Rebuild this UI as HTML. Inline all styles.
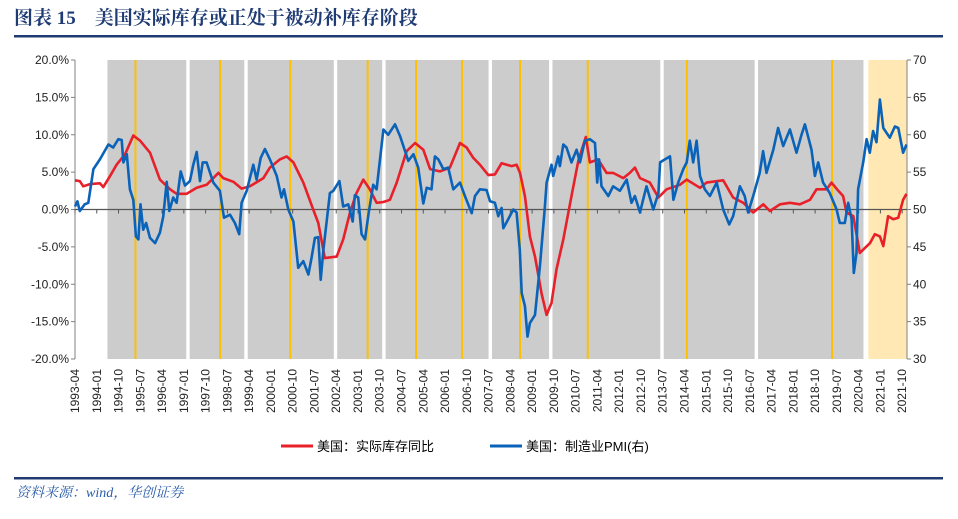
<!DOCTYPE html>
<html><head><meta charset="utf-8">
<style>
body{margin:0;background:#fff;width:958px;height:519px;overflow:hidden;font-family:"Liberation Sans","Noto Sans CJK SC",sans-serif;}
svg{display:block}
</style></head>
<body>
<svg id="c" width="958" height="519">
<text x="14" y="24" font-family="'Liberation Serif','Noto Serif CJK SC',serif" font-weight="bold" font-size="19" fill="#1f3b73">图表 15　美国实际库存或正处于被动补库存阶段</text>
<rect x="14" y="35" width="929" height="2.5" fill="#1f3b73"/>
<g id="bg"></g>
<g id="axes"></g>
<g id="series"></g>
<g>
<line x1="281" y1="446" x2="313" y2="446" stroke="#e8202a" stroke-width="3"/>
<text x="317" y="451" font-size="13" fill="#000">美国：实际库存同比</text>
<line x1="490" y1="446" x2="522" y2="446" stroke="#0a63b8" stroke-width="3"/>
<text x="526" y="451" font-size="13" fill="#000">美国：制造业PMI(右)</text>
</g>
<rect x="14" y="477" width="929" height="2.5" fill="#1f3b73"/>
<text x="16" y="497" font-family="'Liberation Serif','Noto Serif CJK SC',serif" font-style="italic" font-size="14" fill="#2a5ca8">资料来源：wind，华创证券</text>
</svg>
<script>
// months are offsets from 1993-04
const shadeStart=[13,47,71,108,128,172,197,243,282];
const shadeEnd=[46,70,107,127,171,196,242,281,326];
const highlightStart=[328];
const highlightEnd=[344];
const goldMonths=[25,60,89,121,141,160,184,212,253,313];
const leftTicks=[20,15,10,5,0,-5,-10,-15,-20];
const rightTicks=[70,65,60,55,50,45,40,35,30];
const invMonths=[0,2,3.4,6.2,10.3,11.7,14.5,17.2,20.7,24.1,26.9,31,35.1,39.3,42,46.2,50.3,54.4,59.3,61.3,65.5,68.9,72.3,77.9,80.6,84.7,87.5,90.3,94.4,98.5,100.6,103.3,108.2,110.9,113.7,116.4,119.2,121.9,124.7,127.5,130.2,133,137.1,140.6,144,146.8,150.9,155,159.2,161.9,164.7,167.4,170.9,173.6,176.4,180.5,182.6,184,186,188.1,190.2,192.9,195,197,199.1,201.9,205.3,208.1,211.2,212.9,216.3,219.8,222.5,226.7,229.4,231.5,233.6,237.7,241.2,244.6,250.1,252.9,258.4,261.1,268,272.1,276.3,280.4,284.6,287.3,291.5,295.6,299.7,303.9,306.6,310.8,312.8,315.6,317.6,319,321.8,324.5,328.7,330.7,332.8,334.2,336.2,338.3,340.4,342.4,343.8];
const invValues=[3.9,3.8,3.1,3.4,3.5,3.0,4.5,6.0,7.4,9.9,9.2,7.6,4.0,2.7,2.1,2.1,2.9,3.3,4.9,4.2,3.7,2.8,3.1,4.2,5.6,6.7,7.1,6.3,3.6,0,-1.8,-6.5,-6.3,-4.0,-0.4,2.2,4.0,2.7,0.9,1.0,1.3,3.6,7.8,8.9,8.0,5.4,5.1,5.6,8.9,8.3,6.9,6.0,4.6,4.7,6.2,5.8,6.0,4.9,1.8,-3.6,-6.3,-11.2,-14.1,-12.5,-8.0,-4.0,1.8,6.5,9.7,6.3,6.7,4.9,4.9,4.2,4.9,5.6,4.2,3.6,1.6,2.7,3.3,4.0,2.9,3.6,3.9,1.6,0.9,-0.4,0.7,-0.2,0.7,0.9,0.7,1.3,2.7,2.7,3.6,2.5,1.8,-0.4,-0.9,-5.8,-4.5,-3.3,-3.6,-4.9,-0.9,-1.3,-1.1,1.3,2.1];
const pmiMonths=[0,1,2,4,5.5,7.6,10.3,13.8,15.8,17.9,19.3,20,21.4,22.7,24.1,25.2,26.2,27.1,28.2,29.4,31,33.1,35.1,36.5,37.9,39,40.6,42,43.7,45.5,47.5,48.9,50.3,51.7,52.8,54.4,57.2,59.9,61.6,64.1,66.1,67.9,68.9,71,73.7,75.1,76.8,78.5,80.6,83.4,85.4,86.4,88.2,90.3,92.3,94.4,96.5,97.8,99.2,100.6,101.6,102.7,105.4,106.8,109.3,110.9,113,114.8,115.7,117.1,118.5,119.9,121.3,123.3,124.7,127.5,129.5,132.3,134.4,137.8,139.9,141.9,144,145.4,147.4,148.8,150.2,152.3,154.3,156.4,159.2,161.2,164,165.4,167.4,170.2,171.6,173.6,175,176.4,177.1,179.1,181.2,182.6,183.9,184.7,186,187.1,188.1,190.2,192.2,194.3,195,197,197.7,199.8,200.5,201.9,203.2,205.3,207.4,208.8,210.8,212.9,215,215.9,216.7,217.7,220.5,222.5,225.3,228.1,230.1,231.5,233.6,234.9,236.3,239.1,241.2,241.9,243.9,246,247.4,249.4,251.5,252.9,254.2,255.6,257,258.4,260.4,262.5,265.3,268,270.5,272.1,274.9,276.9,278.3,280.4,283.1,284.5,285.9,288.7,290.7,292.8,295.6,298.3,300.4,301.8,304.5,305.9,307.3,309.3,312.1,314.9,316.2,318.3,319.7,321.1,322,323.1,323.8,325.9,327.3,328.6,330,331.4,332.8,334.2,336.9,339,340.4,342.4,343.8];
const pmiValues=[50.4,51.1,49.8,50.7,50.9,55.4,56.7,58.7,58.3,59.4,59.3,56.3,57.4,52.7,51.3,46.4,46.0,50.7,47.3,48.2,46.2,45.5,46.9,49.1,53.7,49.8,51.6,50.9,55.1,53.2,53.8,56.0,57.7,53.8,56.3,56.3,53.6,52.5,48.9,49.3,48.2,46.7,50.9,52.5,56.0,54.0,56.9,58.1,56.7,54.5,51.6,52.7,50.0,48.4,42.2,43.1,41.3,43.5,46.2,46.3,40.6,44.6,52.2,52.5,53.8,50.4,50.7,48.4,51.9,51.6,46.7,46.0,49.3,53.3,52.7,60.7,60.0,61.4,59.8,56.5,57.4,55.6,50.8,52.9,52.7,57.1,56.7,55.4,55.6,52.7,53.6,51.8,49.5,51.8,52.7,52.6,51.1,50.9,49.1,50.2,47.5,48.7,50.0,49.6,44.6,38.8,37.1,33.0,34.8,35.9,42.4,50.4,53.6,56.0,54.5,57.1,55.8,58.7,58.3,56.3,58.0,56.3,59.2,59.4,58.9,53.6,56.7,53.1,51.8,53.1,52.5,54.0,50.9,51.8,49.6,51.3,53.1,50.0,52.2,56.3,56.7,57.1,51.3,53.6,55.4,56.3,59.2,56.3,59.2,54.5,52.7,51.8,53.6,50.0,48.0,49.1,53.1,51.8,49.6,51.8,54.9,57.8,54.9,58.0,60.9,58.5,60.7,57.6,60.0,61.4,58.0,54.5,56.3,53.6,52.2,50.0,48.2,48.2,50.9,48.7,41.5,44.2,52.7,56.3,59.4,57.6,60.5,59.0,64.7,60.9,59.6,61.1,60.9,57.6,58.7];

const NS='http://www.w3.org/2000/svg';
const L=75,R=907,T=60,B=359,MMAX=344;
const xs=m=>L+(R-L)*m/MMAX;
const yl=v=>T+(B-T)*(20-v)/40;
const yr=v=>T+(B-T)*(70-v)/40;
function mk(tag,attrs,parent){const e=document.createElementNS(NS,tag);for(const k in attrs)e.setAttribute(k,attrs[k]);parent.appendChild(e);return e;}
const bg=document.getElementById('bg'),ax=document.getElementById('axes'),sr=document.getElementById('series');
shadeStart.forEach((s,i)=>{
  const r=mk('rect',{x:xs(s)+1,y:T,width:xs(shadeEnd[i])-xs(s)-1,height:B-T,fill:'#cccccc'},bg);
  
  
});
highlightStart.forEach((s,i)=>{
  const r=mk('rect',{x:xs(s),y:T,width:xs(highlightEnd[i])-xs(s),height:B-T,fill:'#ffe8b3'},bg);
  
  
});
goldMonths.forEach(m=>{
  const l=mk('line',{x1:xs(m),x2:xs(m),y1:T,y2:B,stroke:'#ffc000','stroke-width':2},bg);
  
  
});
const la=mk('line',{x1:L,x2:L,y1:T,y2:B,stroke:'#808080','stroke-width':1},ax);


const ra=mk('line',{x1:R,x2:R,y1:T,y2:B,stroke:'#808080','stroke-width':1},ax);


leftTicks.forEach(v=>{
  mk('line',{x1:L-4,x2:L,y1:yl(v),y2:yl(v),stroke:'#808080'},ax);
  const t=mk('text',{x:L-6,y:yl(v)+4,'text-anchor':'end','font-size':12,fill:'#222'},ax);
  t.textContent=v.toFixed(1)+'%';
  
  
});
rightTicks.forEach(v=>{
  mk('line',{x1:R,x2:R+4,y1:yr(v),y2:yr(v),stroke:'#808080'},ax);
  const t=mk('text',{x:R+6,y:yr(v)+4,'font-size':12,fill:'#222'},ax);
  t.textContent=v;
  
  
});
const z=mk('line',{x1:L,x2:R,y1:yl(0),y2:yl(0),stroke:'#555','stroke-width':1.3},ax);


for(let m=0;m<=MMAX;m+=9){
  mk('line',{x1:xs(m),x2:xs(m),y1:yl(0),y2:yl(0)+4,stroke:'#555'},ax);
  const yr_=1993+Math.floor((3+m)/12),mo=(3+m)%12+1;
  const x=xs(m)+4,y=369;
  const t=mk('text',{x:x,y:y,'text-anchor':'end','font-size':12,fill:'#222',transform:`rotate(-90 ${x} ${y})`},ax);
  t.textContent=yr_+'-'+String(mo).padStart(2,'0');
  
  
}
function path(ms,vs,yf,color,name){
  const d=ms.map((m,i)=>(i?'L':'M')+xs(m).toFixed(1)+','+yf(vs[i]).toFixed(1)).join('');
  const p=mk('path',{d:d,fill:'none',stroke:color,'stroke-width':2.6,'stroke-linejoin':'round'},sr);
  
  
}
path(invMonths,invValues,yl,'#e8202a','inventory-yoy-line');
path(pmiMonths,pmiValues,yr,'#0a63b8','pmi-line');
</script>
</body></html>
